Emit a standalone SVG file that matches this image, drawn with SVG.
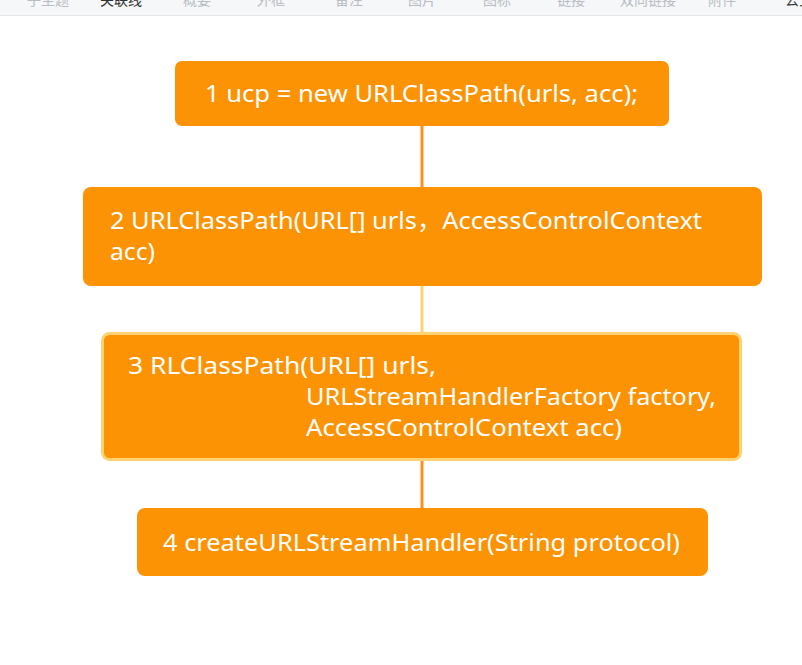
<svg xmlns="http://www.w3.org/2000/svg" width="802" height="665" viewBox="0 0 802 665">
<style>
.tb{font-family:"Noto Sans CJK SC","Noto Sans",sans-serif;font-size:14px;fill:#b8bcc4}
.tbd{fill:#333}
.box{fill:#fb9304}
.t{font-family:"Noto Sans","Noto Sans CJK SC","Liberation Sans",sans-serif;font-size:24px;fill:#ffffff}
.c{stroke:#f7921a;stroke-width:3;fill:none}
.cl{stroke:#fcd372;stroke-width:3;fill:none}
</style>
<rect x="0" y="0" width="802" height="665" fill="#ffffff"/>
<g id="toolbar">
<rect x="0" y="0" width="802" height="15" fill="#f6f7f9"/>
<line x1="0" y1="15.5" x2="802" y2="15.5" stroke="#e6e8eb" stroke-width="1"/>
<text class="tb" x="27" y="5">子主题</text>
<text class="tb tbd" x="100" y="5">关联线</text>
<text class="tb" x="183" y="5">概要</text>
<text class="tb" x="257" y="5">外框</text>
<text class="tb" x="335" y="5">备注</text>
<text class="tb" x="408" y="5">图片</text>
<text class="tb" x="483" y="5">图标</text>
<text class="tb" x="557" y="5">链接</text>
<text class="tb" x="620" y="5">双向链接</text>
<text class="tb" x="708" y="5">附件</text>
<text class="tb tbd" x="785" y="5">公式</text>
</g>
<g id="connectors">
<line class="c" x1="422" y1="126" x2="422" y2="187"/>
<line class="cl" x1="422" y1="286" x2="422" y2="333"/>
<line class="c" x1="422" y1="460" x2="422" y2="508"/>
</g>
<g id="node1">
<rect class="box" x="175" y="61" width="494" height="65" rx="7"/>
<text class="t" x="205" y="102" textLength="433" lengthAdjust="spacingAndGlyphs">1 ucp = new URLClassPath(urls, acc);</text>
</g>
<g id="node2">
<rect class="box" x="83" y="187" width="679" height="99" rx="8"/>
<text class="t" x="110" y="229" textLength="592" lengthAdjust="spacingAndGlyphs">2 URLClassPath(URL[] urls<tspan font-family="Noto Sans CJK SC">，</tspan>AccessControlContext</text>
<text class="t" x="110" y="260" textLength="45" lengthAdjust="spacingAndGlyphs">acc)</text>
</g>
<g id="node3">
<rect x="102.5" y="333.5" width="638" height="126" rx="7" fill="#fb9304" stroke="#fcd372" stroke-width="3"/>
<text class="t" x="128" y="374" textLength="308" lengthAdjust="spacingAndGlyphs">3 RLClassPath(URL[] urls,</text>
<text class="t" x="306" y="405" textLength="410" lengthAdjust="spacingAndGlyphs">URLStreamHandlerFactory factory,</text>
<text class="t" x="306" y="436" textLength="316" lengthAdjust="spacingAndGlyphs">AccessControlContext acc)</text>
</g>
<g id="node4">
<rect class="box" x="137" y="508" width="571" height="68" rx="8"/>
<text class="t" x="163" y="551" textLength="517" lengthAdjust="spacingAndGlyphs">4 createURLStreamHandler(String protocol)</text>
</g>
</svg>
